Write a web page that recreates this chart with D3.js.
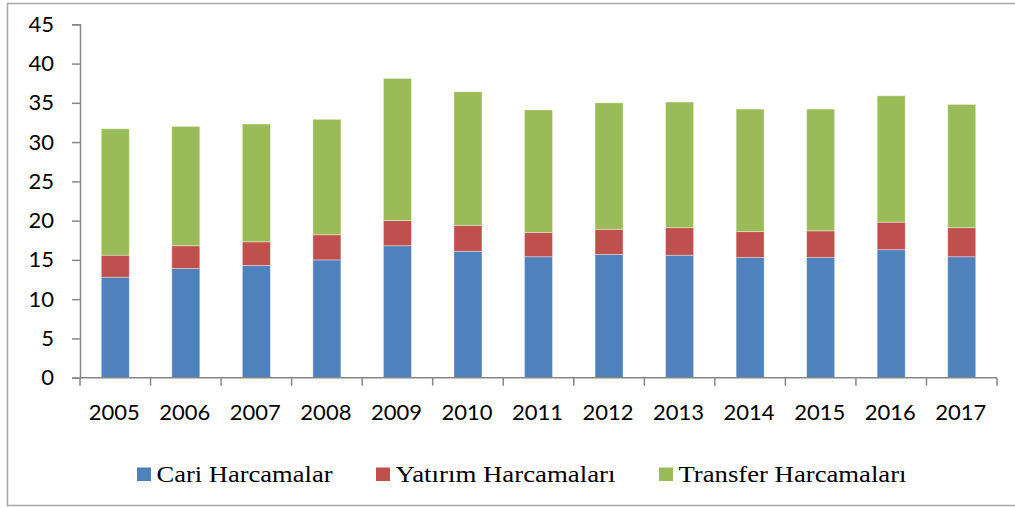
<!DOCTYPE html>
<html>
<head>
<meta charset="utf-8">
<script src="https://cdn.jsdelivr.net/npm/d3@7"></script>
<style>
  body { margin: 0; background: #fff; }
  svg { display: block; }
</style>
</head>
<body>
<svg id="chart" width="1015" height="507"></svg>
<script>
// values
const years = ["2005","2006","2007","2008","2009","2010","2011","2012","2013","2014","2015","2016","2017"];
const cari     = [12.8, 13.9, 14.3, 15.0, 16.8, 16.1, 15.4, 15.7, 15.6, 15.3, 15.3, 16.3, 15.4];
const yatirim  = [2.8, 2.9, 3.0, 3.2, 3.2, 3.3, 3.1, 3.2, 3.5, 3.3, 3.4, 3.5, 3.7];
const transfer = [16.1, 15.2, 15.0, 14.7, 18.1, 17.0, 15.6, 16.1, 16.0, 15.6, 15.5, 16.1, 15.7];
const seriesNames = ["Cari Harcamalar", "Yatırım Harcamaları", "Transfer Harcamaları"];
const yTicks = [0, 5, 10, 15, 20, 25, 30, 35, 40, 45];

const colors = ["#4F81BD", "#C0504D", "#9BBB59"];
const svg = d3.select("#chart");

// outer frame
svg.append("rect")
  .attr("x", 7.5).attr("y", 3.5)
  .attr("width", 1010).attr("height", 502)
  .attr("fill", "none")
  .attr("stroke", "#a6a6a6")
  .attr("stroke-width", 1.5);

const x = d3.scaleBand().domain(years).range([80, 997]).paddingInner(0).paddingOuter(0);
const y = d3.scaleLinear().domain([0, 45]).range([377.7, 24.3]);
const barW = 28;

// stack the three series
const rows = years.map((yr, i) => ({ year: yr, s0: cari[i], s1: yatirim[i], s2: transfer[i] }));
const stacked = d3.stack().keys(["s0", "s1", "s2"])(rows);

svg.selectAll(".layer")
  .data(stacked)
  .enter()
  .append("g")
  .attr("fill", (d, i) => colors[i])
  .selectAll("rect")
  .data(d => d)
  .enter()
  .append("rect")
  .attr("x", d => x(d.data.year) + x.bandwidth() / 2 - barW / 2)
  .attr("width", barW)
  .attr("y", d => y(d[1]))
  .attr("height", d => y(d[0]) - y(d[1]))
  .attr("stroke", "rgba(255,255,255,0.45)")
  .attr("stroke-width", 0.8);

const axisColor = "#868686";
const tickFont = "Lato, 'Open Sans', sans-serif";

// y axis
const yAxis = svg.append("g")
  .attr("transform", "translate(80,0)")
  .call(d3.axisLeft(y).tickValues(yTicks).tickSize(8).tickPadding(18));
yAxis.select(".domain").attr("stroke", axisColor).attr("stroke-width", 1.5);
yAxis.selectAll(".tick line").attr("stroke", axisColor).attr("stroke-width", 1.5);
yAxis.selectAll(".tick text")
  .attr("fill", "#000")
  .style("font-family", tickFont)
  .style("font-size", "22px");

// x axis: ticks at band edges
const xAxis = svg.append("g").attr("transform", `translate(0,${y(0)})`);
xAxis.append("line")
  .attr("x1", 80).attr("x2", 997)
  .attr("stroke", axisColor).attr("stroke-width", 1.5);
const edges = years.map(yr => x(yr)).concat([x(years[years.length - 1]) + x.bandwidth()]);
xAxis.selectAll(".xt")
  .data(edges)
  .enter()
  .append("line")
  .attr("x1", d => d).attr("x2", d => d)
  .attr("y1", 0).attr("y2", 8)
  .attr("stroke", axisColor).attr("stroke-width", 1.5);
xAxis.selectAll(".xl")
  .data(years)
  .enter()
  .append("text")
  .attr("x", d => x(d) + x.bandwidth() / 2 - 1)
  .attr("y", 42)
  .attr("text-anchor", "middle")
  .style("font-family", tickFont)
  .style("font-size", "22px")
  .text(d => d);

// legend
const legendX = [137, 376, 659];
const legendW = [176, 220, 228];
const legend = svg.append("g");
seriesNames.forEach((name, i) => {
  legend.append("rect")
    .attr("x", legendX[i]).attr("y", 467.5)
    .attr("width", 14).attr("height", 13.5)
    .attr("fill", colors[i]);
  legend.append("text")
    .attr("x", legendX[i] + 19.5)
    .attr("y", 482)
    .attr("textLength", legendW[i])
    .attr("lengthAdjust", "spacingAndGlyphs")
    .style("font-family", "'Liberation Serif', 'Times New Roman', serif")
    .style("font-size", "24px")
    .text(name);
});
</script>
</body>
</html>
